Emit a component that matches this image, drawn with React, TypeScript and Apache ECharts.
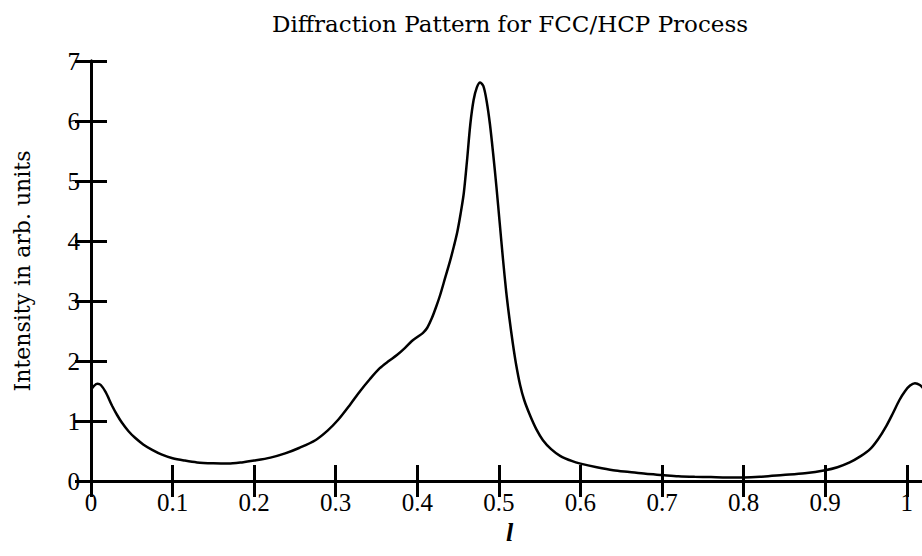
import React, { useEffect, useRef } from "react";
import * as echarts from "echarts";

const titleText = "Diffraction Pattern for FCC/HCP Process";
const xName = "l";
const yName = "Intensity in arb. units";

const lValues = [
  0, 0.004, 0.008, 0.012, 0.018, 0.026, 0.032, 0.038, 0.046, 0.054, 0.064,
  0.075, 0.087, 0.1, 0.115, 0.13, 0.15, 0.168, 0.185, 0.2, 0.22, 0.238, 0.255,
  0.275, 0.29, 0.303, 0.318, 0.33, 0.342, 0.354, 0.365, 0.375, 0.385, 0.393,
  0.4, 0.407, 0.412, 0.418, 0.423, 0.428, 0.434, 0.44, 0.445, 0.449, 0.453,
  0.457, 0.461, 0.465, 0.469, 0.473, 0.477, 0.481, 0.485, 0.489, 0.493, 0.497,
  0.501, 0.505, 0.509, 0.513, 0.517, 0.521, 0.526, 0.531, 0.538, 0.546, 0.554,
  0.564, 0.575, 0.59, 0.6, 0.62, 0.64, 0.66, 0.68, 0.7, 0.72, 0.74, 0.76, 0.78,
  0.8, 0.82, 0.848, 0.875, 0.9, 0.915, 0.93, 0.943, 0.955, 0.965, 0.975, 0.983,
  0.991, 0.998, 1.004, 1.01, 1.016, 1.021, 1.026,
];
const intensity = [
  1.52, 1.59, 1.62, 1.6, 1.48, 1.25, 1.1, 0.97, 0.83, 0.72, 0.61, 0.52, 0.44,
  0.38, 0.34, 0.31, 0.295, 0.29, 0.31, 0.34, 0.39, 0.46, 0.55, 0.68, 0.84,
  1.02, 1.28, 1.5, 1.7, 1.88, 2.0, 2.1, 2.22, 2.33, 2.4, 2.47, 2.55, 2.72, 2.9,
  3.1, 3.38, 3.66, 3.92, 4.15, 4.45, 4.8, 5.35, 5.95, 6.35, 6.56, 6.64, 6.58,
  6.33, 5.95, 5.45, 4.9, 4.3, 3.7, 3.15, 2.7, 2.3, 1.95, 1.6, 1.35, 1.1, 0.86,
  0.68, 0.53, 0.42, 0.33, 0.29, 0.23, 0.18, 0.15, 0.12, 0.1, 0.08, 0.07, 0.065,
  0.06, 0.06, 0.07, 0.1, 0.13, 0.18, 0.23, 0.31, 0.41, 0.53, 0.7, 0.92, 1.13,
  1.35, 1.5, 1.59, 1.63, 1.6, 1.53, 1.43,
];
const yTicks = [0, 1, 2, 3, 4, 5, 6, 7];

const TEXT_FONT = "DejaVu Serif";
const NUM_FONT = "Liberation Serif";

export default function App() {
  const ref = useRef<HTMLDivElement>(null);
  useEffect(() => {
    if (!ref.current) return;
    const chart = echarts.init(ref.current, null, { renderer: "svg" });
    const data = lValues.map((x, i) => [x, intensity[i]]);
    const xFmt = (v: number) => {
      const r = Math.round(v * 10) / 10;
      if (Math.abs(v - r) > 1e-6) return "";
      return String(Number(r.toFixed(1)));
    };
    const axisLine = { show: true, lineStyle: { color: "#000", width: 3 } };
    const tick = { show: true, inside: true, length: 16, lineStyle: { color: "#000", width: 3 } };
    chart.setOption({
      animation: false,
      backgroundColor: "#fff",
      title: {
        text: titleText,
        left: 505,
        textAlign: "center",
        top: 7,
        textStyle: { fontFamily: TEXT_FONT, fontSize: 23, fontWeight: "normal", color: "#000" },
      },
      grid: {
        left: 91,
        right: -6,
        top: 61,
        bottom: 75,
        containLabel: false,
        outerBoundsMode: "none",
      },
      xAxis: [
        {
          type: "value",
          min: 0,
          max: 1.026,
          interval: 0.1,
          position: "bottom",
          name: xName,
          nameLocation: "middle",
          nameGap: 30,
          nameTextStyle: {
            fontFamily: NUM_FONT,
            fontSize: 26,
            fontStyle: "italic",
            fontWeight: "bold",
            color: "#000",
          },
          axisLine,
          axisTick: tick,
          splitLine: { show: false },
          axisLabel: {
            formatter: xFmt,
            fontFamily: NUM_FONT,
            fontSize: 25,
            color: "#000",
            margin: 9,
            showMaxLabel: false,
          },
        },
        {
          type: "value",
          min: 0,
          max: 1.026,
          interval: 0.1,
          position: "top",
          axisLine,
          axisTick: tick,
          splitLine: { show: false },
          axisLabel: { show: false },
        },
      ],
      yAxis: [
        {
          type: "value",
          min: yTicks[0],
          max: yTicks[yTicks.length - 1],
          interval: 1,
          position: "left",
          name: yName,
          nameLocation: "middle",
          nameGap: 58,
          nameRotate: 90,
          nameTextStyle: { fontFamily: TEXT_FONT, fontSize: 22, color: "#000" },
          axisLine,
          axisTick: tick,
          splitLine: { show: false },
          axisLabel: { fontFamily: NUM_FONT, fontSize: 25, color: "#000", margin: 11 },
        },
        {
          type: "value",
          min: yTicks[0],
          max: yTicks[yTicks.length - 1],
          interval: 1,
          position: "right",
          axisLine,
          axisTick: tick,
          splitLine: { show: false },
          axisLabel: { show: false },
        },
      ],
      series: [
        {
          type: "line",
          data,
          smooth: 0.3,
          showSymbol: false,
          symbol: "none",
          lineStyle: { color: "#000", width: 2.5 },
          xAxisIndex: 0,
          yAxisIndex: 0,
        },
      ],
    });
    return () => chart.dispose();
  }, []);
  return (
    <div
      ref={ref}
      style={{ position: "fixed", left: 0, top: 0, width: 922, height: 556, background: "#fff" }}
    />
  );
}
